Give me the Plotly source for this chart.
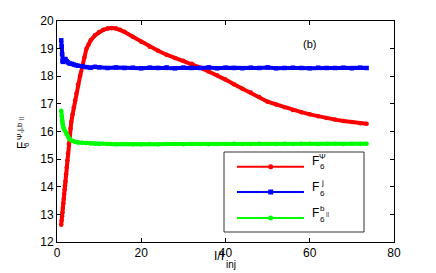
import plotly.graph_objects as go

# ---- data ----
x_red = [1.0, 1.1, 1.2, 1.3, 1.4, 1.5, 1.6, 1.7, 1.8, 1.9, 2.0, 2.15, 2.3, 2.45, 2.6, 2.8, 3.0, 3.2,
         3.4, 3.7, 4.0, 4.3, 4.6, 5.0, 5.5, 6.0, 6.5, 7.0, 7.5, 8.0, 9.0, 10, 11, 12, 13, 14, 15, 16,
         18, 20, 22, 24, 26, 28, 30, 32, 34, 36, 38, 40, 42, 44, 46, 48, 50, 52, 54, 56, 58, 60,
         62, 64, 66, 68, 70, 72, 73.5]
y_red = [12.62, 12.78, 12.93, 13.08, 13.24, 13.4, 13.57, 13.74, 13.9, 14.05, 14.2, 14.45, 14.7, 14.95,
         15.2, 15.55, 15.9, 16.12, 16.35, 16.62, 16.88, 17.12, 17.38, 17.7, 18.02, 18.35, 18.68, 19.0,
         19.15, 19.3, 19.48, 19.6, 19.68, 19.73, 19.75, 19.73, 19.68, 19.61, 19.43, 19.25, 19.07,
         18.92, 18.78, 18.66, 18.56, 18.45, 18.31, 18.17, 18.04, 17.88, 17.71, 17.55, 17.41, 17.25,
         17.08, 16.98, 16.88, 16.78, 16.7, 16.62, 16.55, 16.49, 16.43, 16.38, 16.34, 16.3, 16.28]

x_flat = [1.0, 1.1, 1.2, 1.3, 1.4, 1.5, 1.7, 2.0, 2.3, 2.6, 3.0, 3.5, 4.0, 4.5, 5.0, 6.0, 7.0, 8.0,
          9.0, 10, 12, 14, 16, 18, 20, 22, 24, 26, 28, 30, 32, 34, 36, 38, 40, 42, 44, 46, 48, 50,
          52, 54, 56, 58, 60, 62, 64, 66, 68, 70, 72, 73.5]
y_blue = [19.3, 19.08, 18.8, 18.56, 18.52, 18.55, 18.6, 18.62, 18.55, 18.5, 18.46, 18.45, 18.42,
          18.4, 18.38, 18.36, 18.33, 18.31, 18.34, 18.32, 18.3, 18.32, 18.3, 18.31, 18.29, 18.31,
          18.3, 18.32, 18.29, 18.31, 18.3, 18.3, 18.32, 18.29, 18.31, 18.3, 18.29, 18.31, 18.3,
          18.32, 18.29, 18.3, 18.31, 18.3, 18.29, 18.31, 18.3, 18.3, 18.31, 18.29, 18.31, 18.3]
y_green = [16.75, 16.55, 16.4, 16.3, 16.22, 16.15, 16.08, 16.0, 15.9, 15.8, 15.72, 15.67, 15.64,
           15.62, 15.6, 15.59, 15.58, 15.57, 15.56, 15.55, 15.55, 15.54, 15.55, 15.54, 15.54, 15.55,
           15.54, 15.55, 15.55, 15.54, 15.55, 15.55, 15.54, 15.55, 15.55, 15.56, 15.55, 15.55, 15.56,
           15.55, 15.55, 15.56, 15.55, 15.56, 15.56, 15.55, 15.56, 15.56, 15.55, 15.56, 15.56, 15.56]

x_ticks = [0, 20, 40, 60, 80]
y_ticks = [12, 13, 14, 15, 16, 17, 18, 19, 20]

RED, BLUE, GREEN = "#ff0000", "#0000ff", "#00ff00"
FONT = "Liberation Sans, Arial, Helvetica, sans-serif"

W, H = 436, 273
L, R, T, B = 57, 394, 21, 242


def px(xp):
    return (xp - L) / (R - L)


def py(yp):
    return (B - yp) / (B - T)


fig = go.Figure()
fig.add_trace(go.Scatter(x=x_red, y=y_red, mode="lines+markers",
                         line=dict(color=RED, width=4),
                         marker=dict(color=RED, size=4.5, symbol="circle"), showlegend=False))
fig.add_trace(go.Scatter(x=x_flat, y=y_blue, mode="lines+markers",
                         line=dict(color=BLUE, width=4),
                         marker=dict(color=BLUE, size=4.5, symbol="square"), showlegend=False))
fig.add_trace(go.Scatter(x=x_flat, y=y_green, mode="lines+markers",
                         line=dict(color=GREEN, width=4),
                         marker=dict(color=GREEN, size=4.5, symbol="circle"), showlegend=False))

shapes = []
annotations = []

# legend box
shapes.append(dict(type="rect", xref="paper", yref="paper", x0=px(224), x1=px(364),
                   y0=py(232), y1=py(152), line=dict(color="#333333", width=1),
                   fillcolor="white", layer="above"))
rows = [(166.7, RED, "circle"), (192, BLUE, "square"), (218, GREEN, "circle")]
for yy, col, sym in rows:
    shapes.append(dict(type="line", xref="paper", yref="paper", x0=px(237), x1=px(304),
                       y0=py(yy), y1=py(yy), line=dict(color=col, width=2), layer="above"))
    r = 2.5
    shapes.append(dict(type="circle" if sym == "circle" else "rect", xref="paper", yref="paper",
                       x0=px(270.7 - r), x1=px(270.7 + r), y0=py(yy + r), y1=py(yy - r),
                       line=dict(color=col, width=0), fillcolor=col, layer="above"))

legend_text = [
    ("F", 315, 161, 12), ("Ψ", 322, 156.5, 8), ("6", 322, 166.5, 8),
    ("F", 315, 187.3, 12), ("j", 322, 182.5, 8), ("6", 322, 193, 8),
    ("F", 315, 212.8, 12), ("b", 322, 208, 8), ("6", 322, 219, 8), ("||", 328, 214, 6),
]
for t, xx, yy, fs in legend_text:
    annotations.append(dict(text=t, xref="paper", yref="paper", x=px(xx), y=py(yy),
                            xanchor="center", yanchor="middle", showarrow=False,
                            font=dict(size=fs, color="black", family=FONT)))

# x title
annotations.append(dict(text="I/I", xref="paper", yref="paper", x=px(219), y=py(256),
                        xanchor="center", yanchor="middle", showarrow=False,
                        font=dict(size=12, color="black", family=FONT)))
annotations.append(dict(text="inj", xref="paper", yref="paper", x=px(231.5), y=py(264.5),
                        xanchor="center", yanchor="middle", showarrow=False,
                        font=dict(size=10, color="black", family=FONT)))

# y title (rotated, stacked sub/sup)
ytitle = [("F", 22, 146, 12), ("6", 26.5, 144.5, 8), ("Ψ,j,b", 19, 131, 8), ("||", 21, 118, 6)]
for t, xx, yy, fs in ytitle:
    annotations.append(dict(text=t, xref="paper", yref="paper", x=px(xx), y=py(yy),
                            xanchor="center", yanchor="middle", showarrow=False, textangle=-90,
                            font=dict(size=fs, color="black", family=FONT)))

# panel label
annotations.append(dict(text="(b)", xref="x", yref="y", x=60, y=19.17, xanchor="center",
                        yanchor="middle", showarrow=False,
                        font=dict(size=11, color="black", family=FONT)))

axis_common = dict(showline=True, linecolor="black", linewidth=1, mirror="ticks",
                   ticks="inside", ticklen=4, tickcolor="black", showgrid=False,
                   zeroline=False, tickfont=dict(size=12, color="black", family=FONT))

fig.update_layout(
    width=W, height=H,
    margin=dict(l=L, r=W - R, t=T, b=H - B, pad=0),
    paper_bgcolor="white", plot_bgcolor="white",
    xaxis=dict(range=[0, 80], tickvals=x_ticks, ticktext=[str(v) for v in x_ticks], **axis_common),
    yaxis=dict(range=[12, 20], tickvals=y_ticks, ticktext=[str(v) for v in y_ticks], **axis_common),
    shapes=shapes, annotations=annotations, showlegend=False,
)

fig.write_html("out.html", config={"displayModeBar": False},
               post_script="document.body.style.margin='0';document.body.style.padding='0';")
